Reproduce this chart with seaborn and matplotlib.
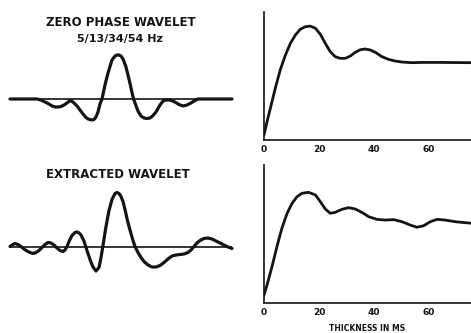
# Wavelet and tuning-curve comparison, redrawn from the scanned figure.

import numpy as np
import pandas as pd
import seaborn as sns
import matplotlib.pyplot as plt

# zero phase wavelet (time in ms relative to peak, amplitude in relative units)
zero_time = [-108, -93, -81, -77, -73, -69, -66, -63, -60, -57, -54, -51, -48, -45, -41, -38, -35, -32, -30,
             -26, -24, -22, -20, -18, -16, -13, -10, -6, -3, -1, 1, 3, 5, 8, 11, 13, 15, 17, 20, 23, 26,
             29, 32, 35, 38, 42, 45, 48, 52, 57, 61, 65, 69, 73, 77, 80, 92, 114]
zero_amp = [0, 0, 0, -1, -3, -5, -7, -8, -8, -7.5, -6, -4, -1.5, -3, -7, -11, -15, -18.5, -20,
            -21, -20.5, -18, -13, -5, 0, 14, 26, 39, 43, 44, 44, 43, 40, 32, 20, 11, 2, -4, -12, -17, -19,
            -19.5, -19, -16.5, -13, -6, -2, -1, -1, -3, -5.5, -7, -6, -4, -1.5, 0, 0, 0]

# extracted wavelet
extr_time = [-108, -105, -103, -100, -97, -94, -91, -88, -85, -82, -79, -76, -73, -70, -67, -64, -61, -58,
             -55, -53, -51, -49, -46, -43, -41, -39, -37, -34, -31, -28, -25, -22, -19, -17, -15, -12, -9,
             -6, -3, -1, 1, 3, 5, 7, 9, 11, 13, 15, 17, 20, 23, 26, 30, 34, 38, 42, 46, 50, 54, 58,
             62, 66, 70, 73, 76, 79, 82, 86, 90, 94, 98, 102, 106, 110, 114]
extr_amp = [0, 2, 3, 2, 0, -2.5, -4.5, -6, -7, -6, -4, -1, 2, 4, 3.5, 1.5, -1.5, -4,
            -5, -3.5, 0, 5, 11, 14, 14.5, 13.5, 11.5, 5.5, -4, -13, -20.5, -24.5, -21, -11, 1, 20, 36,
            47, 53, 54, 53, 50, 45, 37, 28, 20, 13, 6, 0, -6, -11, -15, -18.5, -20.5, -20.5, -19, -16, -12.5, -9.5, -8.5,
            -8, -7.5, -6, -3.5, 0, 3.5, 6, 8, 8.5, 7.5, 5.5, 3.5, 1.5, -0.5, -2]

# tuning curves (thickness in ms, relative amplitude)
thick_top = [0, 1.1, 2.3, 4.1, 5.9, 7.8, 9.6, 11.4, 13.2, 15.0, 16.8, 18.7, 20.5, 22.3, 24.1, 25.9,
             27.7, 29.6, 31.4, 33.2, 35.0, 36.8, 38.7, 40.5, 42.9, 45.3, 47.7, 50.2, 53.8, 57.3,
             64.6, 75.3]
tune_top = [0.04, 0.143, 0.247, 0.404, 0.547, 0.664, 0.755, 0.82, 0.865, 0.885, 0.89, 0.873, 0.826,
            0.755, 0.69, 0.651, 0.638, 0.638, 0.656, 0.685, 0.705, 0.711, 0.703, 0.685, 0.651, 0.63,
            0.617, 0.609, 0.604, 0.606, 0.606, 0.604]

thick_bot = [0, 1.1, 2.9, 4.7, 6.5, 8.4, 10.2, 12.0, 13.8, 16.2, 18.7, 20.5, 22.3, 24.1, 25.9, 28.4,
             30.8, 33.2, 35.6, 38.1, 41.1, 44.1, 47.2, 50.2, 53.2, 55.6, 58.1, 60.5, 62.9, 65.9,
             69.6, 73.2, 75.3]
tune_bot = [0.058, 0.13, 0.263, 0.408, 0.541, 0.65, 0.722, 0.77, 0.795, 0.802, 0.783, 0.734, 0.681,
            0.65, 0.657, 0.679, 0.691, 0.681, 0.657, 0.625, 0.606, 0.601, 0.604, 0.589, 0.565, 0.549,
            0.56, 0.589, 0.606, 0.601, 0.589, 0.582, 0.578]

thick_ticks = [0, 20, 40, 60]
tick_labels = ["0", "20", "40", "60"]

ink = "#141414"

sns.set_style("white")
plt.rcParams['font.family'] = ['DejaVu Sans']

W, H = 471, 333
fig = plt.figure(figsize=(W / 100, H / 100), dpi=100)


def px_axes(x0, y0, x1, y1):
    # axes from pixel box (top-left origin)
    return fig.add_axes([x0 / W, (H - y1) / H, (x1 - x0) / W, (y1 - y0) / H])


def wavelet(ax, t, a, ylim):
    df = pd.DataFrame({"t": t, "a": a})
    ax.axhline(0, color=ink, lw=1.2, zorder=1)
    sns.lineplot(data=df, x="t", y="a", ax=ax, color=ink, linewidth=2.3,
                 estimator=None, sort=False, clip_on=False, zorder=2)
    ax.lines[-1].set_solid_joinstyle("round")
    ax.set_xlim(-108, 114)
    ax.set_ylim(*ylim)
    ax.set_axis_off()


def tuning(ax, t, v, xlabel=None):
    df = pd.DataFrame({"thickness": t, "amp": v})
    sns.lineplot(data=df, x="thickness", y="amp", ax=ax, color=ink, linewidth=2.0,
                 estimator=None, sort=False)
    ax.lines[-1].set_solid_joinstyle("round")
    ax.set_xlim(0, 75.3)
    ax.set_ylim(0, 1)
    sns.despine(ax=ax)
    for s in ["left", "bottom"]:
        ax.spines[s].set_color(ink)
        ax.spines[s].set_linewidth(1.2)
    ax.set_yticks([])
    ax.set_xticks(thick_ticks)
    ax.set_xticklabels(tick_labels, fontsize=6.5, fontweight="bold", color=ink)
    ax.tick_params(axis="x", direction="in", length=3, width=1, color=ink, pad=3.5)
    ax.set_ylabel("")
    if xlabel:
        ax.set_xlabel(xlabel, fontsize=5.5, fontweight="bold", color=ink, labelpad=5)
    else:
        ax.set_xlabel("")


ax1 = px_axes(10, 40, 232, 140)
wavelet(ax1, zero_time, zero_amp, (-41, 59))

ax2 = px_axes(10, 180, 232, 290)
wavelet(ax2, extr_time, extr_amp, (-43.5, 66.5))

ax3 = px_axes(264, 12, 471, 140)
tuning(ax3, thick_top, tune_top)

ax4 = px_axes(264, 165, 471, 303)
tuning(ax4, thick_bot, tune_bot, xlabel="THICKNESS IN MS")

fig.text(121 / W, 1 - 22 / H, "ZERO PHASE WAVELET", ha="center", va="center",
         fontsize=8.5, fontweight="bold", color=ink)
fig.text(120 / W, 1 - 39 / H, "5/13/34/54 Hz", ha="center", va="center",
         fontsize=8, fontweight="bold", color=ink)
fig.text(118 / W, 1 - 175 / H, "EXTRACTED WAVELET", ha="center", va="center",
         fontsize=8.5, fontweight="bold", color=ink)

fig.savefig("out.png", dpi=100)
